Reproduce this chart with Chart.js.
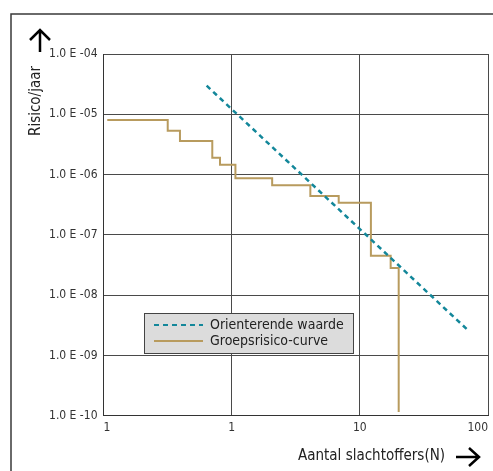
<!DOCTYPE html>
<html><head><meta charset="utf-8">
<script src="https://cdn.jsdelivr.net/npm/chart.js@4/dist/chart.umd.min.js"></script>
<style>html,body{margin:0;padding:0;background:#fff;}canvas{display:block;}</style>
</head><body>
<canvas id="c" width="493" height="471"></canvas>
<script>
// Data
const xTickValues = [0.1, 1, 10, 100];
const xTickLabels = ["1", "1", "10", "100"];
const yTickValues = [1e-4, 1e-5, 1e-6, 1e-7, 1e-8, 1e-9, 1e-10];
const yTickLabels = ["1.0 E -04", "1.0 E -05", "1.0 E -06", "1.0 E -07", "1.0 E -08", "1.0 E -09", "1.0 E -10"];

const orientN = [0.638, 68.2];
const orientRisk = [2.98e-5, 2.74e-9];

const groepN = [0.107, 0.317, 0.395, 0.706, 0.811, 1.07, 2.07, 4.11, 6.84, 12.2, 17.4, 20.1];
const groepRisk = [8.04e-6, 5.34e-6, 3.6e-6, 1.91e-6, 1.46e-6, 8.67e-7, 6.64e-7, 4.41e-7, 3.41e-7, 4.51e-8, 2.82e-8, 1.15e-10];

const seriesLabels = ["Orienterende waarde", "Groepsrisico-curve"];
const xTitle = "Aantal slachtoffers(N)";
const yTitle = "Risico/jaar";

const TEAL = "#13879a";
const GOLD = "#b89b5e";
const FONT = "'Liberation Sans Narrow', 'DejaVu Sans Condensed', sans-serif";

const toPts = (xs, ys) => xs.map((x, i) => ({x: x, y: ys[i]}));

const decor = {
  id: 'decor',
  afterDraw(chart) {
    const ctx = chart.ctx;
    ctx.save();
    // outer frame
    ctx.strokeStyle = '#3a3a3a';
    ctx.lineWidth = 1.5;
    ctx.beginPath();
    ctx.moveTo(11, 471); ctx.lineTo(11, 14); ctx.lineTo(493, 14);
    ctx.stroke();

    // y title + arrow
    ctx.fillStyle = '#222';
    ctx.font = '15px ' + FONT;
    ctx.save();
    ctx.translate(36, 101);
    ctx.rotate(-Math.PI / 2);
    ctx.textAlign = 'center';
    ctx.textBaseline = 'middle';
    ctx.fillText(yTitle, 0, 0);
    ctx.restore();
    ctx.strokeStyle = '#000';
    ctx.lineWidth = 2.5;
    ctx.beginPath();
    ctx.moveTo(40, 52); ctx.lineTo(40, 30);
    ctx.moveTo(30, 40); ctx.lineTo(40, 30); ctx.lineTo(50, 40);
    ctx.stroke();

    // x title + arrow
    ctx.textAlign = 'right';
    ctx.textBaseline = 'middle';
    ctx.fillText(xTitle, 445, 456);
    ctx.beginPath();
    ctx.moveTo(456, 457); ctx.lineTo(479, 457);
    ctx.moveTo(469, 448); ctx.lineTo(479, 457); ctx.lineTo(469, 466);
    ctx.stroke();

    // legend
    const ds = chart.data.datasets;
    ctx.fillStyle = '#dcdcdc';
    ctx.fillRect(144, 313, 209, 40);
    ctx.strokeStyle = '#444';
    ctx.lineWidth = 1;
    ctx.strokeRect(144.5, 313.5, 209, 40);
    const rows = [325, 341];
    ds.forEach((d, i) => {
      ctx.strokeStyle = d.borderColor;
      ctx.lineWidth = 2;
      ctx.setLineDash(d.borderDash || []);
      ctx.beginPath();
      ctx.moveTo(154, rows[i]); ctx.lineTo(203, rows[i]);
      ctx.stroke();
      ctx.setLineDash([]);
      ctx.fillStyle = '#222';
      ctx.font = '14px ' + FONT;
      ctx.textAlign = 'left';
      ctx.textBaseline = 'middle';
      ctx.fillText(d.label, 210, rows[i]);
    });
    ctx.restore();
  }
};

new Chart(document.getElementById('c'), {
  type: 'line',
  data: {
    datasets: [
      { label: seriesLabels[0], data: toPts(orientN, orientRisk), borderColor: TEAL, borderWidth: 2.5, borderDash: [5, 4], pointRadius: 0, fill: false },
      { label: seriesLabels[1], data: toPts(groepN, groepRisk), borderColor: GOLD, borderWidth: 2, stepped: 'before', pointRadius: 0, fill: false }
    ]
  },
  options: {
    responsive: false,
    animation: false,
    layout: { padding: { left: 0, top: 54, right: 5, bottom: 0 } },
    plugins: { legend: { display: false }, tooltip: { enabled: false } },
    scales: {
      x: {
        type: 'logarithmic', min: 0.1, max: 100,
        afterBuildTicks: s => { s.ticks = xTickValues.map(v => ({ value: v })); },
        afterFit: s => { s.height = 55.3; },
        ticks: {
          callback: (v) => { const i = xTickValues.findIndex(t => Math.abs(Math.log10(t) - Math.log10(v)) < 1e-6); return i >= 0 ? xTickLabels[i] : ''; },
          font: { family: FONT, size: 12 }, color: '#333', padding: 5, maxRotation: 0, autoSkip: false, align: 'inner'
        },
        grid: { color: '#4a4a4a', lineWidth: 1, drawTicks: false },
        border: { color: '#333', width: 1 }
      },
      y: {
        type: 'logarithmic', min: 1e-10, max: 1e-4,
        afterBuildTicks: s => { s.ticks = yTickValues.map(v => ({ value: v })); },
        afterFit: s => { s.width = 103.5; },
        ticks: {
          callback: (v) => { const i = yTickValues.findIndex(t => Math.abs(Math.log10(t) - Math.log10(v)) < 1e-6); return i >= 0 ? yTickLabels[i] : ''; },
          font: { family: FONT, size: 12 }, color: '#333', padding: 6, autoSkip: false
        },
        grid: { color: '#4a4a4a', lineWidth: 1, drawTicks: false },
        border: { color: '#333', width: 1 }
      }
    }
  },
  plugins: [decor]
});
</script>
</body></html>
